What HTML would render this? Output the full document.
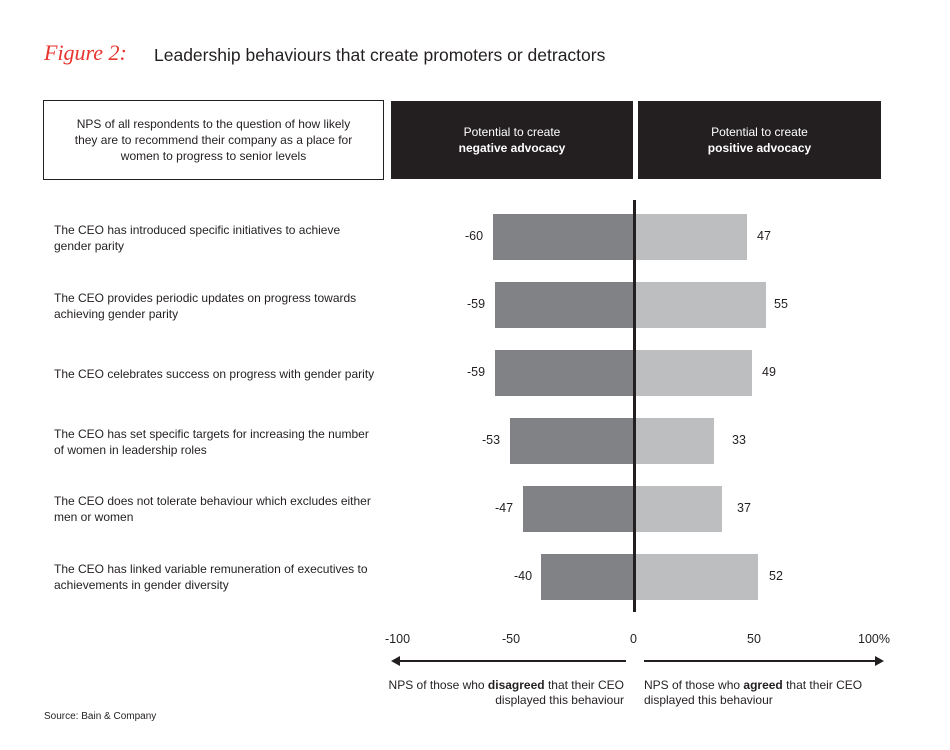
<!DOCTYPE html>
<html><head><style>
body{margin:0;width:950px;height:750px;background:#fff;font-family:"Liberation Sans",sans-serif;color:#231f20;position:relative;overflow:hidden}
.a{position:absolute}
.lbl{position:absolute;left:54px;font-size:12px;line-height:16px;width:340px}
.v{position:absolute;font-size:12.5px}
.dk{position:absolute;background:#808285;height:46px}
.lt{position:absolute;background:#bcbec0;height:46px}
</style></head><body>
<div class="a" style="left:44px;top:40px;font-size:22px;color:#e8352f;font-family:'Liberation Serif',serif;font-style:italic">Figure 2:</div>
<div class="a" style="left:154px;top:45px;font-size:17.5px">Leadership behaviours that create promoters or detractors</div>
<div class="a" style="left:43px;top:100px;width:339px;height:78px;border:1.5px solid #231f20;font-size:12px;line-height:16px;text-align:center;display:flex;align-items:center;justify-content:center">NPS of all respondents to the question of how likely<br>they are to recommend their company as a place for<br>women to progress to senior levels</div>
<div class="a" style="left:391px;top:101px;width:242px;height:78px;background:#231f20;color:#fff;font-size:12px;line-height:16px;text-align:center;display:flex;align-items:center;justify-content:center"><div>Potential to create<br><b>negative advocacy</b></div></div>
<div class="a" style="left:638px;top:101px;width:243px;height:78px;background:#231f20;color:#fff;font-size:12px;line-height:16px;text-align:center;display:flex;align-items:center;justify-content:center"><div>Potential to create<br><b>positive advocacy</b></div></div>

<div class="lbl" style="top:222px">The CEO has introduced specific initiatives to achieve<br>gender parity</div>
<div class="lbl" style="top:290px">The CEO provides periodic updates on progress towards<br>achieving gender parity</div>
<div class="lbl" style="top:366px">The CEO celebrates success on progress with gender parity</div>
<div class="lbl" style="top:426px">The CEO has set specific targets for increasing the number<br>of women in leadership roles</div>
<div class="lbl" style="top:493px">The CEO does not tolerate behaviour which excludes either<br>men or women</div>
<div class="lbl" style="top:561px">The CEO has linked variable remuneration of executives to<br>achievements in gender diversity</div>

<div class="dk" style="left:493px;width:141px;top:214px"></div><div class="v" style="left:465px;top:229px">-60</div>
<div class="lt" style="left:636px;width:111px;top:214px"></div><div class="v" style="left:757px;top:229px">47</div>
<div class="dk" style="left:495px;width:139px;top:282px"></div><div class="v" style="left:467px;top:297px">-59</div>
<div class="lt" style="left:636px;width:130px;top:282px"></div><div class="v" style="left:774px;top:297px">55</div>
<div class="dk" style="left:495px;width:139px;top:350px"></div><div class="v" style="left:467px;top:365px">-59</div>
<div class="lt" style="left:636px;width:116px;top:350px"></div><div class="v" style="left:762px;top:365px">49</div>
<div class="dk" style="left:510px;width:124px;top:418px"></div><div class="v" style="left:482px;top:433px">-53</div>
<div class="lt" style="left:636px;width:78px;top:418px"></div><div class="v" style="left:732px;top:433px">33</div>
<div class="dk" style="left:523px;width:111px;top:486px"></div><div class="v" style="left:495px;top:501px">-47</div>
<div class="lt" style="left:636px;width:86px;top:486px"></div><div class="v" style="left:737px;top:501px">37</div>
<div class="dk" style="left:541px;width:93px;top:554px"></div><div class="v" style="left:514px;top:569px">-40</div>
<div class="lt" style="left:636px;width:122px;top:554px"></div><div class="v" style="left:769px;top:569px">52</div>
<div class="a" style="left:633px;top:200px;width:3px;height:412px;background:#231f20"></div>

<div class="v" style="left:385px;top:632px">-100</div>
<div class="v" style="left:502px;top:632px">-50</div>
<div class="v" style="left:630px;top:632px">0</div>
<div class="v" style="left:747px;top:632px">50</div>
<div class="v" style="left:858px;top:632px">100%</div>
<svg class="a" style="left:0;top:0" width="950" height="750">
<line x1="398" y1="661" x2="626" y2="661" stroke="#231f20" stroke-width="2"/>
<polygon points="391,661 400,656 400,666" fill="#231f20"/>
<line x1="644" y1="661" x2="876" y2="661" stroke="#231f20" stroke-width="2"/>
<polygon points="884,661 875,656 875,666" fill="#231f20"/>
</svg>
<div class="a" style="left:380px;top:678px;width:244px;text-align:right;font-size:12px;line-height:15px">NPS of those who <b>disagreed</b> that their CEO<br>displayed this behaviour</div>
<div class="a" style="left:644px;top:678px;font-size:12px;line-height:15px">NPS of those who <b>agreed</b> that their CEO<br>displayed this behaviour</div>
<div class="a" style="left:44px;top:711px;font-size:10px">Source: Bain &amp; Company</div>
</body></html>
